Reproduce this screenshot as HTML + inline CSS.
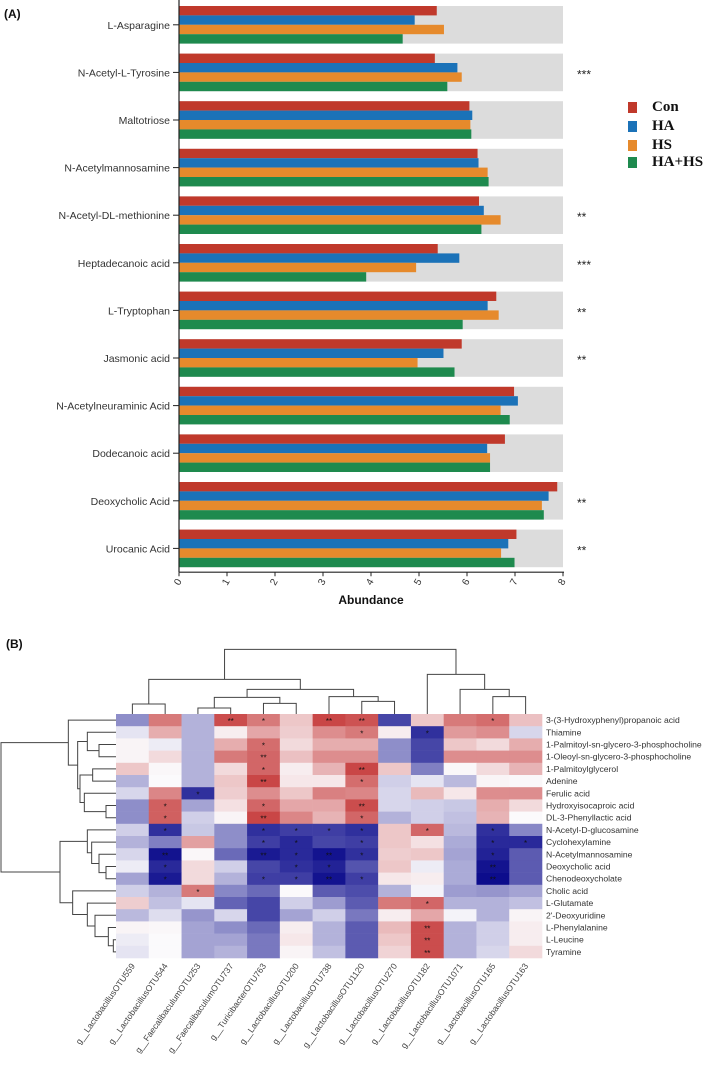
<!DOCTYPE html>
<html><head><meta charset="utf-8">
<style>
html,body{margin:0;padding:0;background:#fff;}
svg{display:block;font-family:"Liberation Sans",Arial,sans-serif;}
</style></head>
<body>
<svg id="fig" width="709" height="1065" viewBox="0 0 709 1065" xmlns="http://www.w3.org/2000/svg">
<text x="4" y="18" font-size="12" font-weight="bold" fill="#111">(A)</text>
<text x="6" y="648" font-size="12" font-weight="bold" fill="#111">(B)</text>
<g id="barChart"></g>
<g id="heat"></g>
</svg>
<script>
// ---------- Bar chart data ----------
const metabolites = ["L-Asparagine","N-Acetyl-L-Tyrosine","Maltotriose","N-Acetylmannosamine","N-Acetyl-DL-methionine","Heptadecanoic acid","L-Tryptophan","Jasmonic acid","N-Acetylneuraminic Acid","Dodecanoic acid","Deoxycholic Acid","Urocanic Acid"];
const conValues = [5.37,5.33,6.05,6.22,6.25,5.39,6.61,5.89,6.98,6.79,7.88,7.03];
const haValues  = [4.91,5.80,6.11,6.24,6.35,5.84,6.43,5.51,7.06,6.42,7.70,6.86];
const hsValues  = [5.52,5.89,6.07,6.43,6.70,4.94,6.66,4.97,6.70,6.48,7.56,6.71];
const hahsValues= [4.66,5.59,6.09,6.45,6.30,3.90,5.91,5.74,6.89,6.48,7.60,6.99];
const sigMarks  = ["","***","","","**","***","**","**","","","**","**"];
const xTicks = [0,1,2,3,4,5,6,7,8];
const groupNames = ["Con","HA","HS","HA+HS"];

// ---------- Heatmap data ----------
const otus = ["g__LactobacillusOTU559","g__LactobacillusOTU544","g__FaecalibaculumOTU253","g__FaecalibaculumOTU737","g__TuricibacterOTU763","g__LactobacillusOTU200","g__LactobacillusOTU738","g__LactobacillusOTU1120","g__LactobacillusOTU270","g__LactobacillusOTU182","g__LactobacillusOTU1071","g__LactobacillusOTU165","g__LactobacillusOTU163"];
const compounds = ["3-(3-Hydroxyphenyl)propanoic acid","Thiamine","1-Palmitoyl-sn-glycero-3-phosphocholine","1-Oleoyl-sn-glycero-3-phosphocholine","1-Palmitoylglycerol","Adenine","Ferulic acid","Hydroxyisocaproic acid","DL-3-Phenyllactic acid","N-Acetyl-D-glucosamine","Cyclohexylamine","N-Acetylmannosamine","Deoxycholic acid","Chenodeoxycholate","Cholic acid","L-Glutamate","2'-Deoxyuridine","L-Phenylalanine","L-Leucine","Tyramine"];
const corr = [
[-1.5,2,-1,2.7,2,0.8,2.8,2.6,-2.5,0.8,2,2.2,0.9],
[-0.3,1.2,-1,0.2,1.3,0.7,1.7,2,0.2,-2.8,1.5,1.7,-0.5],
[0.1,-0.2,-1,1.2,2.2,0.5,1.2,1.2,-1.5,-2.5,0.8,0.5,1.2],
[0.1,0.5,-1,2,2.3,0.9,1.7,1.7,-1.5,-2.5,1.7,1.7,1.7],
[0.8,0.05,-1,0.5,2.3,0.2,1.1,2.8,0.8,-1.7,0.05,0.5,1.1],
[-1,0,-1,0.8,2.8,0.3,0.3,2.2,-0.6,-0.3,-0.9,0.1,0.05],
[-0.5,1.8,-2.8,0.7,1.7,0.8,1.9,1.8,-0.5,1,0.3,1.7,1.7],
[-1.5,2.4,-1.2,0.4,2.3,1.3,1.3,2.7,-0.5,-0.6,-0.7,1.2,0.5],
[-1.5,2.4,-0.6,0.1,2.8,1.8,1.1,2.3,-1,-0.6,-0.8,1.1,0],
[-0.6,-2.8,-0.7,-1.5,-2.8,-2.6,-2.6,-2.8,0.8,2.3,-0.9,-2.8,-1.6],
[-1,-1.7,1.4,-1.5,-2.6,-2.9,-2.5,-2.6,0.8,0.4,-1.1,-2.9,-2.9],
[-0.5,-3.2,0.05,-2,-3.1,-2.9,-3.2,-2.8,0.7,0.8,-1.2,-3,-2.2],
[-0.2,-2.9,0.5,-0.6,-2.5,-2.8,-3,-2.3,0.8,-0.2,-1.1,-3.2,-2.2],
[-1.2,-3.1,0.5,-1,-2.6,-2.6,-3.2,-2.6,0.3,0.2,-1.1,-3.4,-2.2],
[-0.6,-1,2,-1.6,-2,0.02,-2.2,-2.4,-1,-0.1,-1.3,-1.4,-1.2],
[0.7,-0.8,-0.3,-2.1,-2.5,-0.6,-1.3,-2.2,2,2.3,-1,-1,-0.8],
[-0.9,-0.4,-1.4,-0.5,-2.5,-1.2,-0.6,-1.8,0.2,1.3,-0.1,-1,0.1],
[0.1,0.05,-1.2,-1.5,-2,0.2,-1,-2.2,1,2.7,-1,-0.6,0.2],
[-0.2,0,-1.2,-1.2,-1.8,0.3,-1,-2.2,0.8,2.7,-1,-0.6,0.2],
[-0.3,0,-1.2,-1,-1.8,0.1,-0.8,-2.2,0.6,2.7,-1,-0.5,0.5]
];
const stars = [
["","","","**","*","","**","**","","","","*",""],
["","","","","","","","*","","*","","",""],
["","","","","*","","","","","","","",""],
["","","","","**","","","","","","","",""],
["","","","","*","","","**","","","","",""],
["","","","","**","","","*","","","","",""],
["","","*","","","","","","","","","",""],
["","*","","","*","","","**","","","","",""],
["","*","","","**","","","*","","","","",""],
["","*","","","*","*","*","*","","*","","*",""],
["","","","","*","*","","*","","","","*","*"],
["","**","","","**","*","**","*","","","","*",""],
["","*","","","","*","*","","","","","**",""],
["","*","","","*","*","**","*","","","","**",""],
["","","*","","","","","","","","","",""],
["","","","","","","","","","*","","",""],
["","","","","","","","","","","","",""],
["","","","","","","","","","**","","",""],
["","","","","","","","","","**","","",""],
["","","","","","","","","","**","","",""]
];
// Column dendrogram merges: [leftNode, rightNode, height(py units)]; leaves 0..12, new nodes 13+
const colMerges = [[0,1,192],[2,3,204],[4,5,190],[7,8,184],[14,15,172],[6,16,170],[17,18,148],[13,19,118],[11,12,170],[10,21,148],[9,22,103],[20,23,28]];
// Row dendrogram merges: leaves 0..19, new nodes 20+ ; height in zoom-x units
const rowMerges = [[2,3,297],[1,20,262],[4,5,278],[7,8,318],[6,23,253],[22,24,240],[21,25,233],[0,26,205],
[12,13,318],[11,28,297],[10,29,275],[9,30,262],[18,19,340],[17,32,325],[16,33,285],[15,34,262],[14,35,218],[31,36,180],[27,37,3]];

const NS="http://www.w3.org/2000/svg";
function mk(tag,attrs,parent){const e=document.createElementNS(NS,tag);for(const k in attrs)e.setAttribute(k,attrs[k]);parent.appendChild(e);return e;}

// ---------- Bar chart ----------
(function(){
  const g=document.getElementById('barChart');
  const x0=179,x1=563;
  const xs=v=>x0+(v-0)/8*(x1-x0);
  const top=6,period=47.6,gh=37.6,bh=gh/4;
  const cols=["#c0392b","#1b72b8","#e68a2c","#1e8a4e"];
  const series=[conValues,haValues,hsValues,hahsValues];
  metabolites.forEach((m,i)=>{
    const y=top+i*period;
    const bg=mk('rect',{x:x0,y:y,width:x1-x0,height:gh,fill:"#dcdcdc"},g);
    
    
    series.forEach((s,j)=>{
      const r=mk('rect',{x:x0,y:y+j*bh,width:xs(s[i])-x0,height:bh,fill:cols[j]},g);
      
      
    });
    const t=mk('text',{x:170,y:y+gh/2+4,'font-size':10.5,'text-anchor':'end',fill:'#333'},g);
    t.textContent=m;
    
    
    mk('line',{x1:173,x2:179,y1:y+gh/2,y2:y+gh/2,stroke:'#222','stroke-width':1},g);
    if(sigMarks[i]){
      const s=mk('text',{x:577,y:y+gh/2+6,'font-size':12,fill:'#222'},g);
      s.textContent=sigMarks[i];
      
      
    }
  });
  const axY=top+11*period+gh+5;
  mk('line',{x1:x0,x2:x0,y1:0,y2:axY,stroke:'#222','stroke-width':1.2},g);
  mk('line',{x1:x0,x2:x1+1,y1:axY,y2:axY,stroke:'#222','stroke-width':1.2},g);
  xTicks.forEach(v=>{
    mk('line',{x1:xs(v),x2:xs(v),y1:axY,y2:axY+4,stroke:'#222'},g);
    const t=mk('text',{x:xs(v)+3,y:axY+9,'font-size':10,'text-anchor':'end',fill:'#333',transform:`rotate(-60 ${xs(v)+3} ${axY+9})`},g);
    t.textContent=v;
    
    
  });
  const at=mk('text',{x:371,y:604,'font-size':12,'font-weight':'bold','text-anchor':'middle',fill:'#111'},g);
  at.textContent='Abundance';
  
  
  // legend
  const ly=[105,124,143,160];
  groupNames.forEach((n,j)=>{
    const r=mk('rect',{x:628,y:ly[j]-3,width:9,height:11,fill:cols[j]},g);
    
    
    const t=mk('text',{x:652,y:ly[j]+6,'font-size':15,'font-weight':'bold','font-family':'"Liberation Serif",serif',fill:'#111'},g);
    t.textContent=n;
    
    
  });
})();

// ---------- Heatmap ----------
(function(){
  const g=document.getElementById('heat');
  const hx=116,hy=714,cw=(542-116)/13,rh=244/20;
  function color(v){
    let t=Math.min(1,Math.abs(v)/3.3);
    const w=[251,250,252];
    const c=v<0?[12,12,140]:[192,38,38];
    return `rgb(${Math.round(w[0]+(c[0]-w[0])*t)},${Math.round(w[1]+(c[1]-w[1])*t)},${Math.round(w[2]+(c[2]-w[2])*t)})`;
  }
  corr.forEach((row,i)=>{
    row.forEach((v,j)=>{
      const r=mk('rect',{x:hx+j*cw,y:hy+i*rh,width:cw+0.3,height:rh+0.3,fill:color(v)},g);
      
      
      if(stars[i][j]){
        const s=mk('text',{x:hx+(j+0.5)*cw,y:hy+(i+0.5)*rh+4,'font-size':8,'text-anchor':'middle',fill:'#111'},g);
        s.textContent=stars[i][j];
      }
    });
    const t=mk('text',{x:546,y:hy+(i+0.5)*rh+3,'font-size':8.6,fill:'#333'},g);
    t.textContent=compounds[i];
    
    
  });
  otus.forEach((o,j)=>{
    const cx=hx+(j+0.5)*cw+3, cy=hy+20*rh+8;
    const t=mk('text',{x:cx,y:cy,'font-size':8.6,'text-anchor':'end',fill:'#444',transform:`rotate(-55 ${cx} ${cy})`},g);
    t.textContent=o;
    
    
  });
  // column dendrogram
  const cpos={},chgt={};
  for(let j=0;j<13;j++){cpos[j]=hx+(j+0.5)*cw;chgt[j]=hy;}
  colMerges.forEach((m,k)=>{
    const id=13+k,y=640+m[2]/3;
    const a=m[0],b=m[1];
    const p=mk('path',{d:`M${cpos[a]},${chgt[a]}V${y}H${cpos[b]}V${chgt[b]}`,fill:'none',stroke:'#444','stroke-width':1},g);
    
    
    cpos[id]=(cpos[a]+cpos[b])/2;chgt[id]=y;
  });
  // row dendrogram
  const rpos={},rx={};
  for(let i=0;i<20;i++){rpos[i]=hy+(i+0.5)*rh;rx[i]=hx;}
  rowMerges.forEach((m,k)=>{
    const id=20+k,x=m[2]/3;
    const a=m[0],b=m[1];
    const p=mk('path',{d:`M${rx[a]},${rpos[a]}H${x}V${rpos[b]}H${rx[b]}`,fill:'none',stroke:'#444','stroke-width':1},g);
    
    
    rpos[id]=(rpos[a]+rpos[b])/2;rx[id]=x;
  });
})();
</script>
</body></html>
